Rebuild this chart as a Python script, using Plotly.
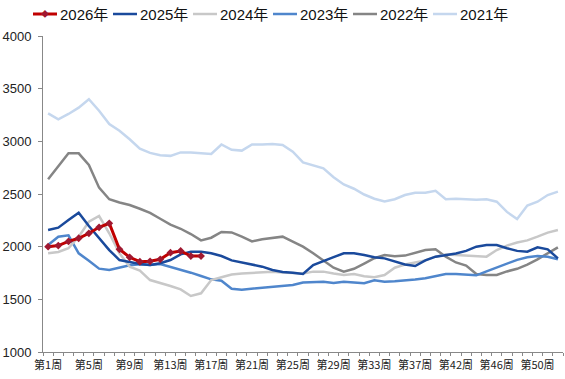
import plotly.graph_objects as go

weeks = [f"第{w}周" for w in list(range(1, 40)) + list(range(41, 53))]
tick_labels = [w if i % 4 == 0 else "" for i, w in enumerate(weeks)]

y2021 = [3266, 3209, 3260, 3320, 3400, 3290, 3165, 3100, 3020, 2930, 2890, 2868, 2862, 2895, 2895, 2887, 2880,
         2970, 2920, 2912, 2970, 2970, 2975, 2965, 2902, 2800, 2775, 2744, 2660, 2590, 2550, 2495, 2455, 2430,
         2450, 2490, 2512, 2512, 2530, 2450, 2455, 2448, 2445, 2449, 2427, 2330, 2263, 2390, 2427, 2490, 2522]
y2022 = [2640, 2766, 2886, 2886, 2775, 2560, 2450, 2420, 2395, 2360, 2320, 2265, 2210, 2170, 2120, 2060, 2085,
         2140, 2135, 2095, 2050, 2070, 2085, 2095, 2047, 2000, 1937, 1870, 1800, 1763, 1790, 1840, 1890, 1921,
         1910, 1915, 1945, 1968, 1975, 1905, 1850, 1820, 1740, 1731, 1731, 1765, 1790, 1830, 1880, 1937, 1994]
y2023 = [2016, 2095, 2108, 1937, 1867, 1791, 1778, 1804, 1823, 1832, 1826, 1835, 1810, 1778, 1753, 1721, 1690,
         1677, 1600, 1592, 1600, 1612, 1620, 1630, 1636, 1660, 1667, 1667, 1655, 1667, 1660, 1652, 1680, 1667,
         1672, 1677, 1688, 1700, 1720, 1740, 1740, 1735, 1728, 1765, 1800, 1840, 1875, 1900, 1911, 1905, 1880]
y2024 = [1937, 1950, 1985, 2095, 2237, 2291, 2127, 1937, 1810, 1772, 1683, 1658, 1627, 1595, 1532, 1557, 1683,
         1709, 1735, 1745, 1753, 1760, 1763, 1755, 1747, 1745, 1763, 1763, 1745, 1731, 1740, 1720, 1709, 1731,
         1800, 1830, 1850, 1870, 1905, 1925, 1921, 1915, 1911, 1905, 1968, 2010, 2040, 2060, 2095, 2133, 2158]
y2025 = [2158, 2180, 2253, 2323, 2196, 2079, 1968, 1873, 1855, 1835, 1826, 1842, 1873, 1927, 1952, 1952, 1937,
         1911, 1870, 1850, 1835, 1810, 1778, 1760, 1753, 1740, 1826, 1860, 1900, 1937, 1937, 1920, 1900, 1889,
         1860, 1830, 1816, 1870, 1905, 1921, 1935, 1960, 2000, 2016, 2016, 1985, 1960, 1952, 1994, 1975, 1889]
y2026 = [2000, 2010, 2050, 2080, 2127, 2184, 2222, 1975, 1899, 1857, 1861, 1880, 1943, 1959, 1911, 1911]

series = [
    ("2026年", y2026, "#C00000"),
    ("2025年", y2025, "#1A4A9C"),
    ("2024年", y2024, "#C8C8C8"),
    ("2023年", y2023, "#4F86CC"),
    ("2022年", y2022, "#858585"),
    ("2021年", y2021, "#C5D7EE"),
]

W, H = 565, 379
ML, MR, MT, MB = 43, 2, 36, 27
PW, PH = W - ML - MR, H - MT - MB


def px_x(p):
    return (p - ML) / PW


def px_y(p):
    return 1 + (MT - p) / PH


fig = go.Figure()
for name, ys, color in reversed(series):
    if name == "2026年":
        fig.add_trace(go.Scatter(
            x=weeks[:len(ys)], y=ys, name=name, mode="lines+markers",
            line=dict(color=color, width=3),
            marker=dict(symbol="diamond", size=6, color="#A01830"),
        ))
    else:
        fig.add_trace(go.Scatter(
            x=weeks[:len(ys)], y=ys, name=name, mode="lines",
            line=dict(color=color, width=2.5),
        ))

# Legend row (Excel style: short line + text), laid out in pixels
shapes, annotations = [], []
leg_y = px_y(14)
for i, (name, ys, color) in enumerate(series):
    x0 = 33 + 80 * i
    shapes.append(dict(type="line", xref="paper", yref="paper",
                       x0=px_x(x0), x1=px_x(x0 + 24), y0=leg_y, y1=leg_y,
                       line=dict(color=color, width=3 if i == 0 else 2.5)))
    if i == 0:
        annotations.append(dict(xref="paper", yref="paper", x=px_x(x0 + 12), y=leg_y,
                                text="◆", showarrow=False, xanchor="center", yanchor="middle",
                                font=dict(size=8, color="#A01830")))
    annotations.append(dict(xref="paper", yref="paper", x=px_x(x0 + 25), y=leg_y,
                            text=name, showarrow=False, xanchor="left", yanchor="middle",
                            font=dict(size=15, color="#111111")))

fig.update_layout(
    width=W, height=H,
    margin=dict(l=ML, r=MR, t=MT, b=MB, autoexpand=False),
    paper_bgcolor="white", plot_bgcolor="white",
    font=dict(family="Arial, Noto Sans CJK SC, sans-serif", color="#222222"),
    showlegend=False,
    shapes=shapes, annotations=annotations,
    xaxis=dict(
        type="category", categoryorder="array", categoryarray=weeks,
        range=[-0.5, len(weeks) - 0.5],
        tickmode="array", tickvals=weeks, ticktext=tick_labels,
        tickson="boundaries", ticks="outside", ticklen=3, tickcolor="#888888",
        showline=True, linecolor="#888888", linewidth=1, showgrid=False,
        tickangle=0, ticklabelstandoff=3,
        tickfont=dict(size=11, family="Noto Sans CJK SC, sans-serif", color="#222222"),
    ),
    yaxis=dict(
        range=[1000, 4000], dtick=500, tick0=1000,
        ticks="outside", ticklen=4, tickcolor="#888888",
        showline=True, linecolor="#888888", linewidth=1, showgrid=False, zeroline=False,
        ticklabelstandoff=4,
        tickfont=dict(size=13, color="#222222"),
    ),
)

fig.write_html("out.html", config={"displayModeBar": False},
               post_script="document.body.style.margin='0';document.body.style.overflow='hidden';")
